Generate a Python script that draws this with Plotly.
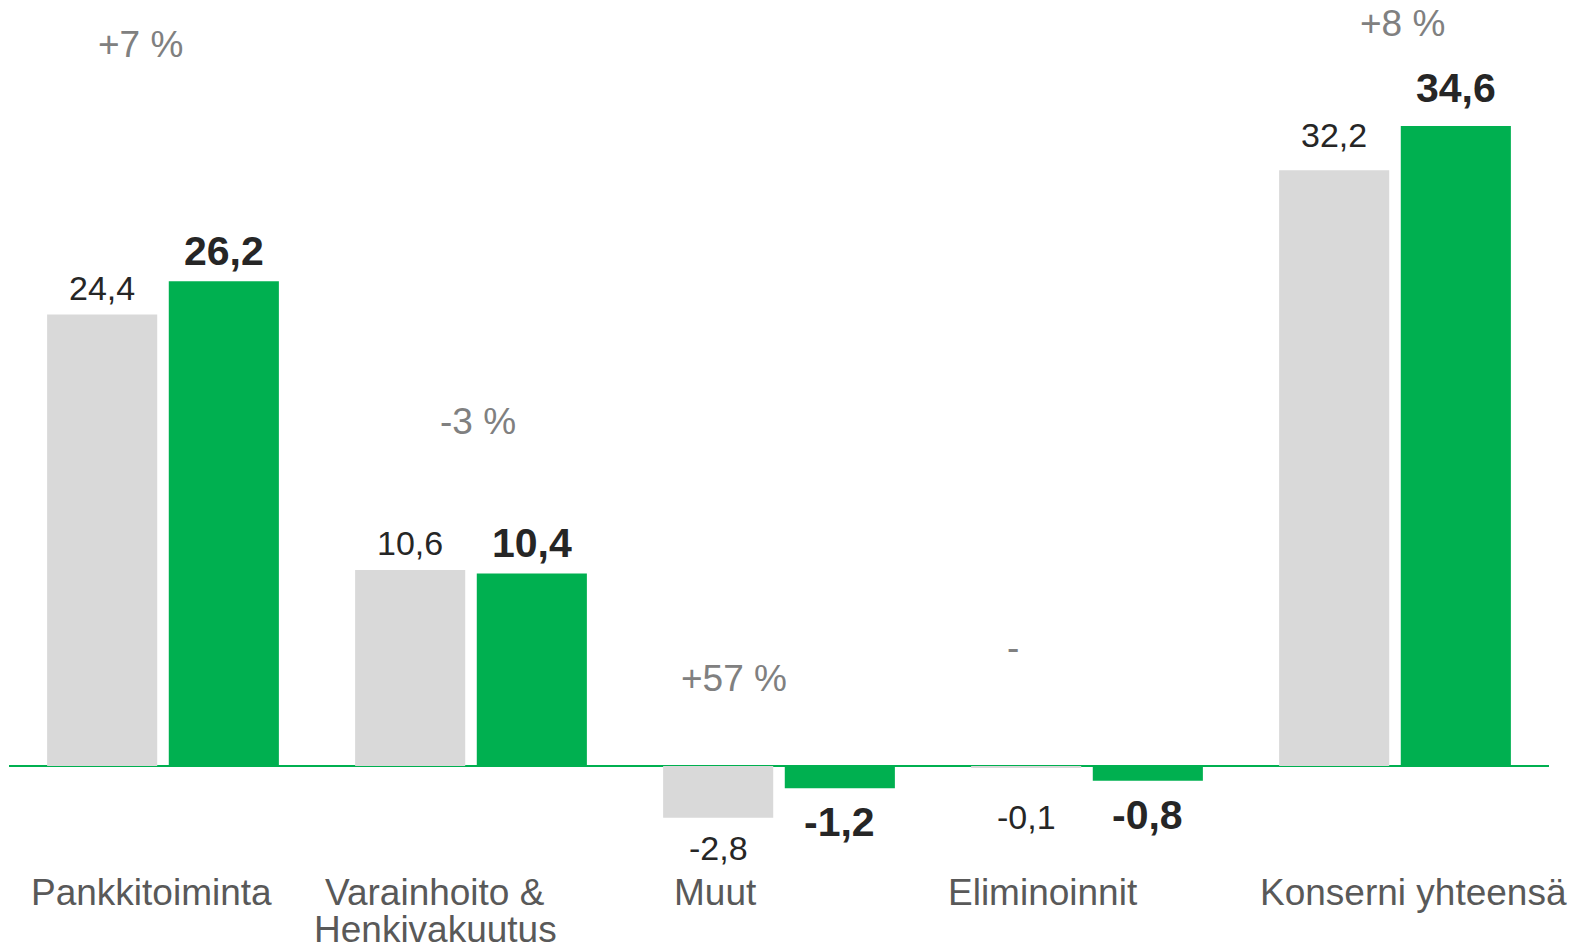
import plotly.graph_objects as go

# ---- data ----
CATEGORY_LINES = [["Pankkitoiminta"], ["Varainhoito &", "Henkivakuutus"], ["Muut"],
                  ["Eliminoinnit"], ["Konserni yhteensä"]]
CATEGORIES = [" ".join(l) for l in CATEGORY_LINES]
PREV_VALUES = [24.4, 10.6, -2.8, -0.1, 32.2]
CURR_VALUES = [26.2, 10.4, -1.2, -0.8, 34.6]
CHANGE_LABELS = ["+7 %", "-3 %", "+57 %", "-", "+8 %"]

# ---- style / layout config ----
W, H = 1578, 948
ZERO_PX = 766
PX_PER_UNIT = 18.5
ML, MR = 9, 29
FONT = "Liberation Sans, Arial, sans-serif"
GRAY = "#d9d9d9"
GREEN = "#00b050"
BAR_OFFSET_PX = 60.8
PREV_LABEL_SHIFT = [27, 27, -30, -49, 35]
CURR_LABEL_SHIFT = [30, 31, -34, -34, 38]
CHANGE_X_SHIFT = [-23, 7, -45, -74, 7.5]
CHANGE_Y_PX = [44, 421, 678, 647, 23]
CAT_X_SHIFT = [-12, -36, -64, -44, 18.5]
CAT_LINE_Y_PX = [892, 929]

ymax = ZERO_PX / PX_PER_UNIT
ymin = -(H - ZERO_PX) / PX_PER_UNIT


def fmt(v):
    return f"{v:.1f}".replace(".", ",")


fig = go.Figure()
fig.add_trace(go.Bar(x=CATEGORIES, y=PREV_VALUES, marker=dict(color=GRAY, line=dict(width=0)),
                     hoverinfo="skip", name="prev"))
fig.add_trace(go.Bar(x=CATEGORIES, y=CURR_VALUES, marker=dict(color=GREEN, line=dict(width=0)),
                     hoverinfo="skip", name="curr"))

ann = []
for i, c in enumerate(CATEGORIES):
    # value labels
    ann.append(dict(x=c, y=PREV_VALUES[i], xref="x", yref="y", text=fmt(PREV_VALUES[i]),
                    showarrow=False, xshift=-BAR_OFFSET_PX, yshift=PREV_LABEL_SHIFT[i],
                    yanchor="middle", xanchor="center",
                    font=dict(family=FONT, size=34, color="#262626")))
    ann.append(dict(x=c, y=CURR_VALUES[i], xref="x", yref="y", text="<b>" + fmt(CURR_VALUES[i]) + "</b>",
                    showarrow=False, xshift=BAR_OFFSET_PX, yshift=CURR_LABEL_SHIFT[i],
                    yanchor="middle", xanchor="center",
                    font=dict(family=FONT, size=41, color="#262626")))
    # change labels
    ann.append(dict(x=c, y=0, xref="x", yref="y", text=CHANGE_LABELS[i], showarrow=False,
                    xshift=CHANGE_X_SHIFT[i], yshift=ZERO_PX - CHANGE_Y_PX[i],
                    yanchor="middle", xanchor="center",
                    font=dict(family=FONT, size=37, color="#808080")))
    # category labels
    for j, line in enumerate(CATEGORY_LINES[i]):
        ann.append(dict(x=c, y=0, xref="x", yref="y", text=line, showarrow=False,
                        xshift=CAT_X_SHIFT[i], yshift=ZERO_PX - CAT_LINE_Y_PX[j],
                        yanchor="middle", xanchor="center",
                        font=dict(family=FONT, size=37, color="#595959")))

fig.update_layout(
    width=W, height=H,
    margin=dict(l=ML, r=MR, t=0, b=0, pad=0),
    paper_bgcolor="white", plot_bgcolor="white",
    barmode="group", bargap=0.21, bargroupgap=0.095,
    showlegend=False,
    annotations=ann,
    xaxis=dict(range=[-0.5, len(CATEGORIES) - 0.5], showticklabels=False, showgrid=False,
               zeroline=False, showline=False, ticks="", fixedrange=True),
    yaxis=dict(range=[ymin, ymax], showticklabels=False, showgrid=False, zeroline=True,
               zerolinecolor=GREEN, zerolinewidth=1.5, showline=False, ticks="", fixedrange=True),
)

fig.write_html("out.html", config={"displayModeBar": False},
               post_script="document.body.style.margin='0';document.body.style.overflow='hidden';")
